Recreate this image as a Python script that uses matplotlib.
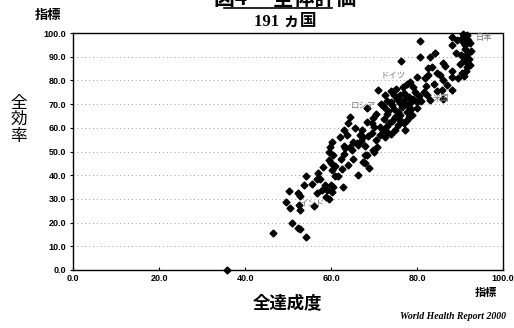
import matplotlib.pyplot as plt
from matplotlib.lines import Line2D

plt.rcParams['font.family'] = ['Liberation Sans', 'Noto Sans CJK JP', 'DejaVu Sans']

# 全達成度 (x) と 全効率 (y), 指標 0-100
attainment = [
    80.7, 88.1, 89.2, 88.1, 91.6, 91.8, 92.3, 89.0, 91.2, 91.9,
    90.8, 91.6, 91.6, 90.5, 91.3, 88.2, 86.1, 84.2, 83.0, 80.7,
    76.3, 83.4, 82.6, 84.7, 85.3, 88.1, 86.0, 82.6, 81.9, 79.9,
    78.4, 77.6, 76.8, 79.1, 79.5, 81.5, 84.7, 85.7, 82.3, 79.1,
    77.6, 76.0, 73.9, 71.0, 74.5, 75.3, 76.8, 73.0, 74.1, 76.0,
    77.6, 78.4, 72.2, 73.3, 74.7, 76.4, 77.6, 78.0, 76.0, 74.9,
    73.0, 72.2, 74.1, 76.0, 77.6, 64.4, 69.8, 68.3, 69.5, 71.4,
    73.1, 74.9, 73.0, 71.4, 62.9, 63.7, 67.1, 66.7, 67.5, 69.5,
    60.2, 62.9, 64.4, 70.6, 59.8, 67.9, 83.0, 79.9, 68.3, 78.7,
    77.2, 65.2, 66.3, 69.8, 64.8, 59.4, 60.5, 66.1, 63.2, 68.3,
    67.8, 70.0, 59.4, 59.9, 62.3, 67.4, 67.9, 68.7, 60.3, 62.6,
    66.3, 57.0, 54.2, 56.8, 57.4, 60.9, 61.6, 62.7, 53.7, 50.3,
    52.4, 52.8, 56.8, 57.8, 59.0, 59.9, 60.5, 60.3, 58.8, 59.4,
    49.5, 50.5, 52.6, 56.1, 52.8, 50.9, 52.3, 52.8, 46.4, 54.1,
    35.8, 90.7, 90.5, 90.7, 91.2, 92.5, 90.2, 91.0, 92.0, 90.0,
    92.3, 90.8, 89.5, 86.5, 72.5, 75.0, 77.0, 78.0, 80.5, 74.0,
    71.5, 75.5, 77.0, 73.5, 70.5, 72.0, 75.5, 70.0, 68.5, 65.5,
    64.0, 70.5, 72.5, 67.0, 74.0, 78.5, 80.0, 81.0, 82.0, 84.0,
    87.0, 86.0, 88.0, 62.0, 63.0, 65.0, 61.0, 58.0, 64.0, 55.5,
    58.5,
]
efficiency = [
    96.5, 98.4, 97.3, 95.1, 99.2, 97.0, 95.9, 91.4, 93.1, 91.4,
    88.6, 87.5, 85.8, 83.2, 84.1, 84.1, 87.2, 91.4, 90.0, 90.0,
    88.3, 85.5, 85.1, 83.2, 82.3, 81.6, 80.2, 82.3, 80.9, 81.6,
    79.5, 78.5, 77.3, 77.3, 75.2, 75.2, 75.7, 75.9, 73.8, 72.3,
    72.9, 73.8, 75.7, 75.9, 73.7, 72.3, 71.2, 71.4, 69.7, 70.3,
    69.5, 70.6, 68.6, 67.2, 67.8, 68.6, 66.7, 64.7, 65.4, 64.7,
    65.8, 63.6, 63.0, 63.3, 63.3, 64.7, 64.0, 62.6, 61.9, 60.2,
    60.8, 59.1, 58.4, 57.0, 59.1, 57.0, 59.1, 57.0, 56.0, 57.7,
    54.1, 52.3, 52.0, 52.0, 52.0, 52.3, 71.7, 71.0, 68.2, 65.4,
    59.1, 54.1, 52.7, 50.6, 50.6, 49.9, 48.5, 53.7, 51.5, 48.6,
    48.4, 49.8, 46.4, 45.0, 46.7, 45.6, 45.0, 43.0, 42.2, 42.5,
    40.0, 41.1, 39.7, 38.5, 38.3, 39.7, 39.7, 35.1, 35.9, 33.5,
    32.4, 31.2, 32.6, 33.8, 33.8, 35.7, 35.1, 32.9, 30.7, 30.1,
    28.7, 26.2, 27.3, 27.0, 25.3, 20.0, 17.6, 17.2, 15.5, 13.8,
    0.0, 99.5, 98.0, 96.3, 94.8, 92.5, 90.9, 89.8, 89.0, 87.0,
    86.5, 82.0, 81.0, 86.0, 74.0, 76.5, 74.8, 73.0, 73.5, 71.0,
    70.0, 66.5, 62.0, 62.0, 66.0, 59.0, 61.0, 60.5, 56.5, 60.0,
    62.0, 55.0, 56.0, 54.5, 57.5, 68.0, 68.5, 71.5, 77.5, 78.5,
    78.0, 72.0, 76.0, 56.0, 49.0, 47.0, 44.0, 43.5, 44.5, 36.5,
    36.0,
]

# 国名ラベル
label_names = ["日本", "ドイツ", "米国", "ロシア", "インド"]
label_x = [93.5, 71.5, 83.5, 64.5, 52.5]
label_y = [98.0, 82.0, 72.5, 69.5, 28.0]

fig = plt.figure(figsize=(5.14, 3.28), dpi=100)
ax = fig.add_axes([0.142, 0.177, 0.837, 0.722])

ax.plot(attainment, efficiency, linestyle="none", marker="D",
        markersize=3.5, color="black", clip_on=False, zorder=3)

for name, lx, ly in zip(label_names, label_x, label_y):
    ax.text(lx, ly, name, fontsize=6, color="#777777", va="center",
            family=["Noto Sans CJK JP", "DejaVu Sans"], zorder=4)

ax.set_xlim(0, 100)
ax.set_ylim(0, 100)
ax.set_xticks(range(0, 101, 20))
ax.set_yticks(range(0, 101, 10))
ax.set_xticklabels([f"{v:.1f}" for v in range(0, 101, 20)])
ax.set_yticklabels([f"{v:.1f}" for v in range(0, 101, 10)])
ax.tick_params(axis="both", labelsize=6.5, length=2, width=0.8, pad=3)
ax.tick_params(axis="x", direction="in")
ax.tick_params(axis="y", direction="out")
for lab in ax.get_xticklabels() + ax.get_yticklabels():
    lab.set_fontweight("bold")

ax.grid(axis="y", linestyle=(0, (1, 3)), color="#999999", linewidth=0.7)
ax.spines["left"].set_linewidth(1.0)
ax.spines["bottom"].set_linewidth(1.0)
ax.spines["top"].set_linestyle((0, (1, 1)))
ax.spines["right"].set_linestyle((0, (1, 1)))
ax.spines["top"].set_linewidth(1.0)
ax.spines["right"].set_linewidth(1.0)

cjk = ["Noto Sans CJK JP", "DejaVu Sans"]

# 上部の見出し(元図でも上端で切れている)
fig.text(0.555, 0.985, "図4 　全体評価", fontsize=15, fontweight="bold",
         ha="center", va="baseline", family=cjk)
fig.add_artist(Line2D([0.435, 0.645], [0.976, 0.976], color="black",
                      linewidth=1.2, transform=fig.transFigure))
fig.text(0.555, 0.935, "191 ヵ国", fontsize=12, fontweight="bold",
         ha="center", va="center", family=["Liberation Serif", "Noto Sans CJK JP"])

fig.text(0.093, 0.955, "指標", fontsize=9.5, fontweight="bold",
         ha="center", va="center", family=cjk)
fig.text(0.036, 0.635, "全\n効\n率", fontsize=12, ha="center", va="center",
         linespacing=0.95, family=cjk)
fig.text(0.56, 0.075, "全達成度", fontsize=12.5, fontweight="bold",
         ha="center", va="center", family=cjk)
fig.text(0.945, 0.108, "指標", fontsize=8, fontweight="bold",
         ha="center", va="center", family=cjk)
fig.text(0.985, 0.035, "World Health Report 2000", fontsize=7,
         style="italic", fontweight="bold", ha="right", va="center",
         family="Liberation Serif")

fig.savefig("out.png", dpi=100)
